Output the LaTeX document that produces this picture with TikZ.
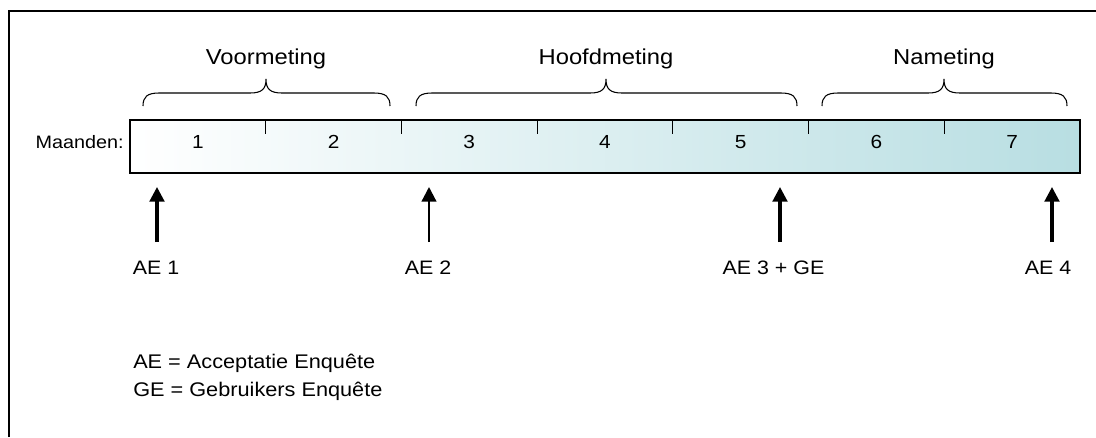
\documentclass[tikz,border=0pt]{standalone}
\usepackage{fontspec}
\setmainfont{Liberation Sans}[FakeStretch=1.1]
\usetikzlibrary{arrows.meta}
\definecolor{barend}{RGB}{184,222,226}
\tikzset{
  frame/.style={line width=1.5pt,black},
  bar/.style={line width=1.1pt,draw=black,left color=white,right color=barend},
  tickline/.style={line width=0.9pt},
  brc/.style={line width=0.8pt},
  heading/.style={font=\fontsize{16.2}{19}\selectfont,inner sep=0pt,anchor=base},
  num/.style={font=\fontsize{14.2}{17}\selectfont,inner sep=0pt,anchor=base},
  mlab/.style={font=\fontsize{13.5}{16}\selectfont,inner sep=0pt,anchor=base east},
  lab/.style={font=\fontsize{14.6}{17}\selectfont,inner sep=0pt,anchor=base},
  leg/.style={font=\fontsize{14.8}{17}\selectfont,inner sep=0pt,anchor=base west},
  arr/.style={line width=2.3pt,-{Triangle[width=11pt,length=11pt]}},
}
\newcommand\mybrace[3]{%
  \draw[brc] (#1,106) .. controls (#1,97) and (#1+4,93) .. (#1+16,93) -- (#2-16,93)
    .. controls (#2-4,93) and (#2,89) .. (#2,79)
    .. controls (#2,89) and (#2+4,93) .. (#2+16,93) -- (#3-16,93)
    .. controls (#3-4,93) and (#3,97) .. (#3,106);}
\begin{document}
\begin{tikzpicture}[x=0.75pt,y=-0.75pt]
\useasboundingbox (0,0) rectangle (1096,437);
% frame
\draw[frame] (8.5,437) -- (8.5,10.75) -- (1096,10.75);
% bar
\path[bar] (130,120) rectangle (1080,173);
\foreach \i in {1,...,6} {
  \draw[tickline] (130+\i*135.714,120) -- (130+\i*135.714,134);
}
\foreach \i in {1,...,7} {
  \node[num] (m\i) at (130+\i*135.714-67.857,148) {\i};
}
\node[mlab] (maanden) at (124,148) {Maanden:};
% braces
\mybrace{143}{266}{390}
\mybrace{416}{606}{797}
\mybrace{822}{944}{1067}
\node[heading] (voor) at (266,64) {Voormeting};
\node[heading] (hoofd) at (606,64) {Hoofdmeting};
\node[heading] (na) at (944,64) {Nameting};
% arrows
\coordinate (a1b) at (157,242); \coordinate (a1t) at (157,187);
\coordinate (a2b) at (429,242); \coordinate (a2t) at (429,187);
\coordinate (a3b) at (780,242); \coordinate (a3t) at (780,187);
\coordinate (a4b) at (1052,242); \coordinate (a4t) at (1052,187);
\draw[arr] (a1b) -- (a1t);
\draw[arr,line width=1.7pt] (a2b) -- (a2t);
\draw[arr] (a3b) -- (a3t);
\draw[arr] (a4b) -- (a4t);
\node[lab] (l1) at (156,274) {AE 1};
\node[lab] (l2) at (428,274) {AE 2};
\node[lab] (l3) at (773.5,274) {AE 3 + GE};
\node[lab] (l4) at (1048,274) {AE 4};
% legend
\node[leg] (leg1) at (133,368) {AE = Acceptatie Enquête};
\node[leg] (leg2) at (133,396.5) {GE = Gebruikers Enquête};
\end{tikzpicture}
\end{document}
